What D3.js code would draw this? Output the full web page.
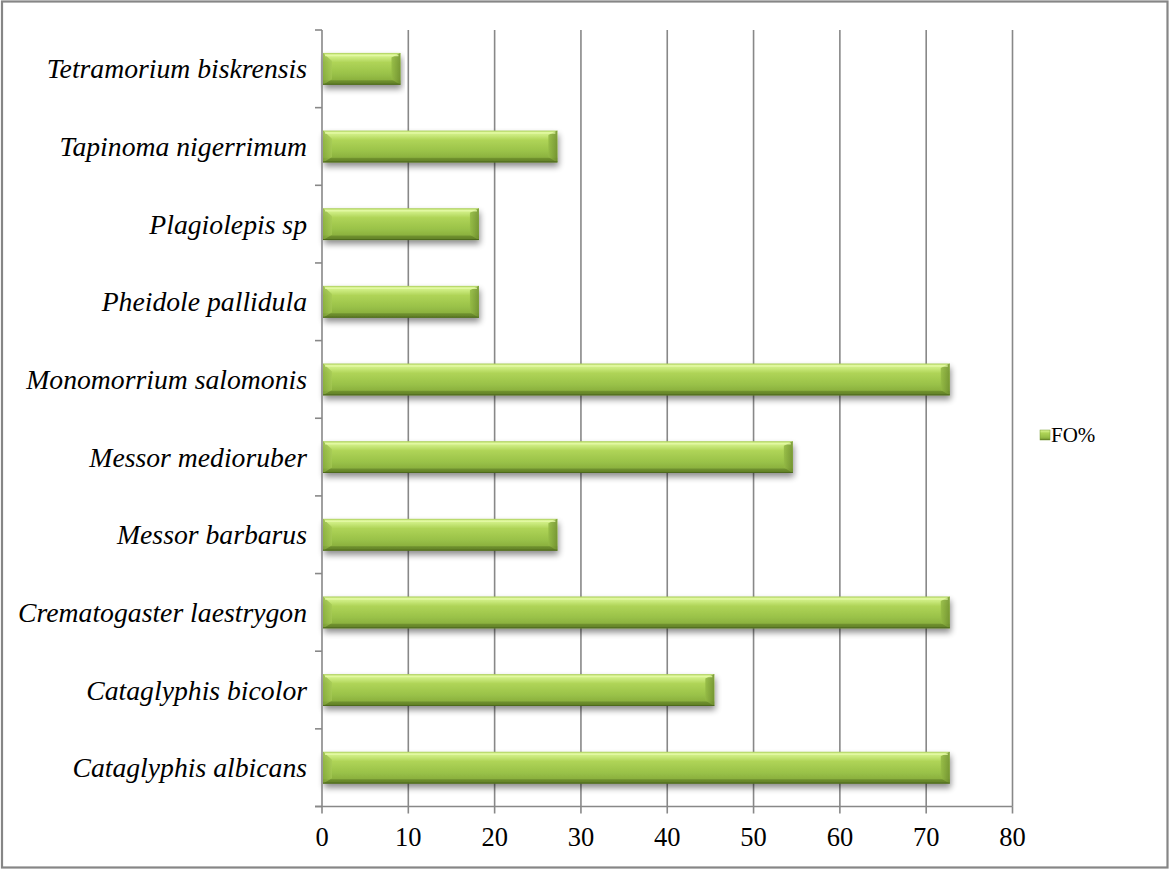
<!DOCTYPE html>
<html>
<head>
<meta charset="utf-8">
<script src="https://cdn.jsdelivr.net/npm/d3@7"></script>
<style>
  html, body { margin: 0; padding: 0; background: #fff; }
  svg { display: block; }
</style>
</head>
<body>
<svg id="chart" width="1170" height="870"></svg>
<script>
// Species (bottom to top as drawn) and their frequency of occurrence
const species = [
  "Cataglyphis albicans",
  "Cataglyphis bicolor",
  "Crematogaster laestrygon",
  "Messor barbarus",
  "Messor medioruber",
  "Monomorrium salomonis",
  "Pheidole pallidula",
  "Plagiolepis sp",
  "Tapinoma nigerrimum",
  "Tetramorium biskrensis"
];
const foValues = [72.73, 45.45, 72.73, 27.27, 54.55, 72.73, 18.18, 18.18, 27.27, 9.09];
const xTicks = [0, 10, 20, 30, 40, 50, 60, 70, 80];
const seriesName = "FO%";

const svg = d3.select("#chart");
const W = 1170, H = 870;
const plot = { left: 322, right: 1012.5, top: 30, bottom: 806.5 };
const serif = "'Liberation Serif', 'Times New Roman', serif";

// Outer frame
svg.append("rect")
  .attr("x", 2).attr("y", 1.5).attr("width", W - 4.5).attr("height", H - 4)
  .attr("fill", "#fff").attr("stroke", "#868686").attr("stroke-width", 2.2);

const defs = svg.append("defs");

// Bar face gradient: light rim on top, dark rim at the bottom
const g1 = defs.append("linearGradient").attr("id", "barFace")
  .attr("x1", 0).attr("y1", 0).attr("x2", 0).attr("y2", 1);
[[0, "#a9cc5a"], [0.06, "#d8f490"], [0.16, "#c8e87a"], [0.3, "#afd457"],
 [0.65, "#9ac249"], [0.84, "#8cb23f"], [0.88, "#6e8f2e"], [1, "#5f7d26"]]
  .forEach(([o, c]) => g1.append("stop").attr("offset", o).attr("stop-color", c));

// Right bevel facet
const g2 = defs.append("linearGradient").attr("id", "barEnd")
  .attr("x1", 0).attr("y1", 0).attr("x2", 1).attr("y2", 0);
[[0, "#94ba45"], [1, "#6f8f2f"]]
  .forEach(([o, c]) => g2.append("stop").attr("offset", o).attr("stop-color", c));

// Left bevel facet
const g3 = defs.append("linearGradient").attr("id", "barStart")
  .attr("x1", 0).attr("y1", 0).attr("x2", 1).attr("y2", 0);
[[0, "#84a83a"], [1, "#a6ca56"]]
  .forEach(([o, c]) => g3.append("stop").attr("offset", o).attr("stop-color", c));

// Soft drop shadow under bars
const f = defs.append("filter").attr("id", "shadow")
  .attr("x", "-5%").attr("y", "-30%").attr("width", "110%").attr("height", "180%");
f.append("feGaussianBlur").attr("in", "SourceAlpha").attr("stdDeviation", 3.2).attr("result", "b");
f.append("feOffset").attr("in", "b").attr("dx", 1).attr("dy", 4).attr("result", "o");
f.append("feComponentTransfer").attr("in", "o").attr("result", "s")
  .append("feFuncA").attr("type", "linear").attr("slope", 0.45);
const fm = f.append("feMerge");
fm.append("feMergeNode").attr("in", "s");
fm.append("feMergeNode").attr("in", "SourceGraphic");

// Scales
const x = d3.scaleLinear().domain([0, 80]).range([plot.left, plot.right]);
const y = d3.scaleBand().domain(species.slice().reverse())
  .range([plot.top, plot.bottom]).paddingInner(0.59).paddingOuter(0.295);
const yEdges = d3.scaleBand().domain(species.slice().reverse())
  .range([plot.top, plot.bottom]);

// Vertical gridlines
svg.append("g").selectAll("line")
  .data(xTicks.slice(1))
  .join("line")
  .attr("x1", d => x(d)).attr("x2", d => x(d))
  .attr("y1", plot.top).attr("y2", plot.bottom)
  .attr("stroke", "#888").attr("stroke-width", 1.6);

// Bars
const bars = svg.append("g").selectAll("g")
  .data(species.map((s, i) => ({ s, v: foValues[i] })))
  .join("g");

bars.each(function (d) {
  const g = d3.select(this);
  const x0 = x(0) + 1, x1 = x(d.v), y0 = y(d.s), h = y.bandwidth(), y1 = y0 + h;
  const b = 9;
  const grp = g.append("g").attr("filter", "url(#shadow)");
  grp.append("rect")
    .attr("x", x0).attr("y", y0).attr("width", x1 - x0).attr("height", h)
    .attr("fill", "url(#barFace)");
  // right bevel
  grp.append("path")
    .attr("d", `M${x1 - b},${y0 + b * 0.5}L${x1},${y0}L${x1},${y1}L${x1 - b},${y1 - b * 0.6}Z`)
    .attr("fill", "url(#barEnd)").attr("opacity", 0.85);
  // left bevel
  grp.append("path")
    .attr("d", `M${x0},${y0}L${x0 + b},${y0 + b * 0.9}L${x0 + b},${y1 - b * 0.6}L${x0},${y1}Z`)
    .attr("fill", "url(#barStart)").attr("opacity", 0.7);
  // top highlight line
  grp.append("line")
    .attr("x1", x0 + 2).attr("x2", x1 - 2).attr("y1", y0 + 2.5).attr("y2", y0 + 2.5)
    .attr("stroke", "#e6faa8").attr("stroke-width", 1.5).attr("opacity", 0.8);
  // darker bottom edge
  grp.append("line")
    .attr("x1", x0).attr("x2", x1).attr("y1", y1 - 0.5).attr("y2", y1 - 0.5)
    .attr("stroke", "#4e6a1e").attr("stroke-width", 1);
});

// Category axis line and ticks between categories
const axisG = svg.append("g");
axisG.append("line")
  .attr("x1", plot.left).attr("x2", plot.left)
  .attr("y1", plot.top).attr("y2", plot.bottom)
  .attr("stroke", "#888").attr("stroke-width", 1.6);
const edgeYs = species.slice().reverse().map(s => yEdges(s)).concat([plot.bottom]);
axisG.selectAll("line.yt").data(edgeYs).join("line").attr("class", "yt")
  .attr("x1", plot.left - 7).attr("x2", plot.left)
  .attr("y1", d => d).attr("y2", d => d)
  .attr("stroke", "#888").attr("stroke-width", 1.6);

// Value axis line and ticks
axisG.append("line")
  .attr("x1", plot.left - 7).attr("x2", plot.right)
  .attr("y1", plot.bottom).attr("y2", plot.bottom)
  .attr("stroke", "#888").attr("stroke-width", 1.6);
axisG.selectAll("line.xt").data(xTicks).join("line").attr("class", "xt")
  .attr("x1", d => x(d)).attr("x2", d => x(d))
  .attr("y1", plot.bottom).attr("y2", plot.bottom + 7)
  .attr("stroke", "#888").attr("stroke-width", 1.6);

// Tick labels
svg.append("g").selectAll("text")
  .data(xTicks).join("text")
  .attr("x", d => x(d)).attr("y", 846)
  .attr("text-anchor", "middle")
  .attr("font-family", serif)
  .attr("font-size", 26.5).attr("fill", "#000")
  .text(d => d);

// Category labels
svg.append("g").selectAll("text")
  .data(species).join("text")
  .attr("x", 307)
  .attr("y", d => y(d) + y.bandwidth() / 2 + 9.5)
  .attr("text-anchor", "end")
  .attr("font-family", serif)
  .attr("font-style", "italic")
  .attr("font-size", 27.7).attr("fill", "#000")
  .text(d => d);

// Legend
const lg = svg.append("g").attr("transform", "translate(1040,430)");
lg.append("rect").attr("width", 10).attr("height", 10).attr("fill", "url(#barFace)")
  .attr("stroke", "#7a9c34").attr("stroke-width", 0.5);
lg.append("text").attr("x", 11).attr("y", 12)
  .attr("font-family", serif)
  .attr("font-size", 21).attr("fill", "#000")
  .text(seriesName);
</script>
</body>
</html>
